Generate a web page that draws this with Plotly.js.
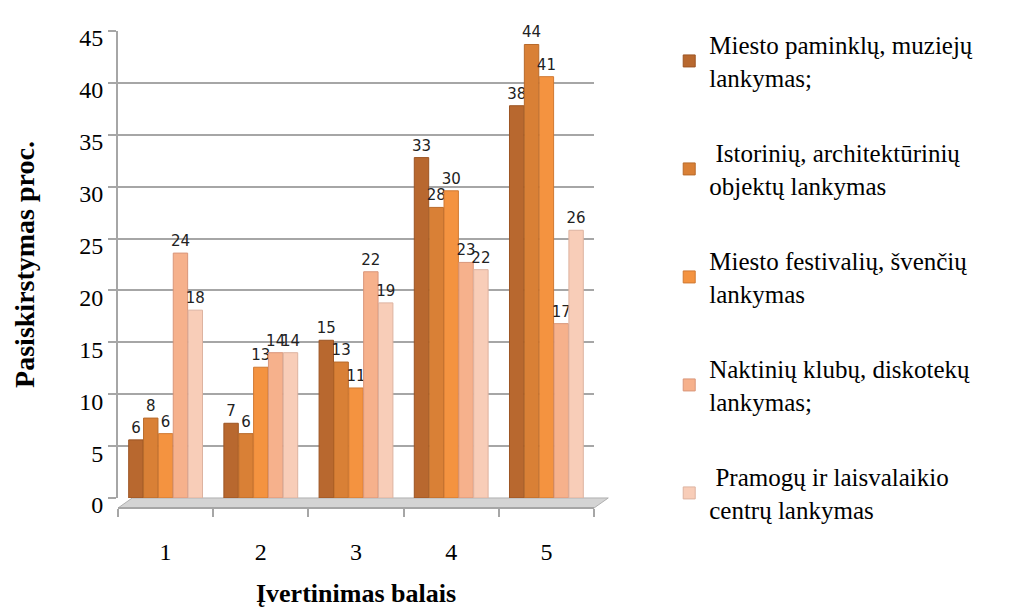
<!DOCTYPE html>
<html>
<head>
<meta charset="utf-8">
<script src="https://cdn.plot.ly/plotly-3.0.1.min.js"></script>
<style>html,body{margin:0;padding:0;background:#fff;}#chart{width:1016px;height:608px;}</style>
</head>
<body>
<div id="chart"></div>
<script>
const categories = ['1', '2', '3', '4', '5'];
const seriesNames = [
  'Miesto paminklų, muziejų<br>lankymas;',
  ' Istorinių, architektūrinių<br>objektų lankymas',
  'Miesto festivalių, švenčių<br>lankymas',
  'Naktinių klubų, diskotekų<br>lankymas;',
  ' Pramogų ir laisvalaikio<br>centrų lankymas'
];
const paminklai = [5.6, 7.2, 15.2, 32.8, 37.8];
const istoriniai = [7.7, 6.2, 13.1, 28.0, 43.7];
const festivaliai = [6.2, 12.6, 10.6, 29.6, 40.6];
const klubai = [23.6, 14.0, 21.8, 22.7, 16.8];
const pramogos = [18.1, 14.0, 18.8, 22.0, 25.8];
const tickVals = [0, 5, 10, 15, 20, 25, 30, 35, 40, 45];

const seriesValues = [paminklai, istoriniai, festivaliai, klubai, pramogos];
const colors = ['#B8682F', '#D98036', '#F49340', '#F6B18C', '#F8CDB8'];
const lines = ['#9C5423', '#B86A2A', '#D07932', '#D9967A', '#DDB3A0'];
const serif = 'Liberation Serif';

const traces = seriesValues.map((vals, i) => ({
  type: 'bar',
  name: seriesNames[i],
  x: categories,
  y: vals,
  legendgroup: 'g' + i,
  marker: {color: colors[i], line: {color: lines[i], width: 1}},
  texttemplate: '%{y:.0f}',
  textposition: 'outside',
  constraintext: 'none',
  textfont: {family: 'DejaVu Sans', size: 15, color: '#222'},
  cliponaxis: false,
  hoverinfo: 'x+y+name'
}));

const layout = {
  width: 1016, height: 608,
  paper_bgcolor: '#fff', plot_bgcolor: '#fff',
  margin: {l: 118, r: 422, t: 31, b: 100},
  barmode: 'group',
  bargap: 0.22,
  bargroupgap: 0.03,
  font: {family: serif, color: '#000'},
  xaxis: {
    type: 'category',
    anchor: 'free', position: 0,
    showline: true, linecolor: '#A6A6A6', linewidth: 2,
    ticks: 'outside', tickson: 'boundaries', ticklen: 8, tickcolor: '#A6A6A6', tickwidth: 2,
    tickfont: {family: serif, size: 24, color: '#000'},
    ticklabelstandoff: 22,
    title: {text: '<b>Įvertinimas balais</b>', font: {family: serif, size: 26, color: '#000'}, standoff: 20},
    showgrid: false, zeroline: false
  },
  yaxis: {
    range: [0, 45],
    domain: [0.021, 1],
    tickvals: tickVals,
    showline: true, linecolor: '#A6A6A6', linewidth: 2,
    ticks: 'outside', ticklen: 8, tickcolor: '#A6A6A6', tickwidth: 2,
    tickfont: {family: serif, size: 24, color: '#000'},
    ticklabelshift: 7,
    showgrid: true, gridcolor: '#A6A6A6', gridwidth: 2,
    zeroline: false,
    title: {text: '<b>Pasiskirstymas proc.</b>', font: {family: serif, size: 28, color: '#000'}, standoff: 36}
  },
  shapes: [{
    type: 'path', xref: 'paper', yref: 'paper', layer: 'below',
    path: 'M 0 0 L 1 0 L 1.03 0.021 L 0.03 0.021 Z',
    fillcolor: '#D4D4D4', line: {color: '#B0B0B0', width: 1}
  }],
  legend: {
    x: 1.158, y: 1.019, xanchor: 'left', yanchor: 'top',
    traceorder: 'grouped',
    tracegroupgap: 40,
    maxheight: 608,
    font: {family: serif, size: 25, color: '#000'},
    bgcolor: 'rgba(0,0,0,0)'
  },
  showlegend: true
};

Plotly.newPlot('chart', traces, layout, {displayModeBar: false, staticPlot: true});
</script>
</body>
</html>
